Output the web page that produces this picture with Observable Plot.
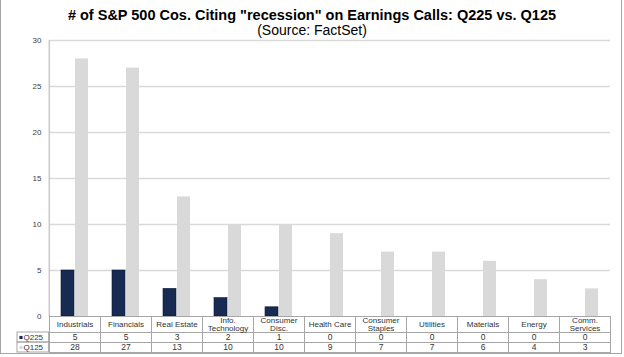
<!DOCTYPE html>
<html><head><meta charset="utf-8">
<script src="https://cdn.jsdelivr.net/npm/d3@7"></script>
<script src="https://cdn.jsdelivr.net/npm/@observablehq/plot@0.6"></script>
<style>
body{margin:0;background:#fff;font-family:"Liberation Sans",Arial,sans-serif;}
#wrap{position:relative;width:624px;height:357px;overflow:hidden;background:#fff;}
#border{position:absolute;left:0px;top:-2px;width:622px;height:356px;border:1.5px solid #a6a6a6;border-top:none;box-sizing:border-box;pointer-events:none;}
#title{height:34px;text-align:center;}
.t1{font-weight:bold;font-size:14.5px;color:#000;padding-top:7px;line-height:16px;}
.t2{font-size:14px;color:#000;line-height:14px;}
</style></head>
<body>
<div id="wrap">
  <div id="title"><div class="t1"># of S&amp;P 500 Cos. Citing "recession" on Earnings Calls: Q225 vs. Q125</div><div class="t2">(Source: FactSet)</div></div>
  <div id="chart"></div>
  <div id="border"></div>
</div>
<script>
const categories = ["Industrials","Financials","Real Estate","Info.\nTechnology","Consumer\nDisc.","Health Care","Consumer\nStaples","Utilities","Materials","Energy","Comm.\nServices"];
const q225 = [5,5,3,2,1,0,0,0,0,0,0];
const q125 = [28,27,13,10,10,9,7,7,6,4,3];
const seriesNames = ["Q225","Q125"];
const yTicks = [0,5,10,15,20,25,30];

const data = categories.flatMap((c,i)=>[{cat:c, series:"Q225", value:q225[i]},{cat:c, series:"Q125", value:q125[i]}]).filter(d=>d.value>0);
const rows = categories.map((c,i)=>({cat:c, q225:q225[i], q125:q125[i]}));
const first = [{cat: categories[0]}];

const W=624,H=323,mt=6,mb=41,ml=47,mr=12;
const plotH = H-mt-mb;
const step = (W-ml-mr)/categories.length;
const font = "Liberation Sans, Arial, sans-serif";
const gridC = "#d9d9d9", tableC = "#a6a6a6", txtC = "#333";
const navy = "#162a52", light = "#d9d9d9";
const tx = {frameAnchor:"bottom", lineAnchor:"middle", fontSize:8.5, fill:txtC};

const chart = Plot.plot({
  width:W, height:H, marginTop:mt, marginBottom:mb, marginLeft:ml, marginRight:mr,
  style:{fontFamily:font, fontSize:"8px", color:"#404040", background:"white", overflow:"visible"},
  fx:{domain:categories, padding:0, axis:null},
  x:{domain:seriesNames, paddingInner:0.07, paddingOuter:0.75, axis:null},
  y:{domain:[0,30], ticks:yTicks, tickSize:0, tickPadding:8, tickFormat:d3.format("d"), label:null},
  color:{domain:seriesNames, range:[navy, light]},
  marks:[
    Plot.ruleY(yTicks.slice(1), {stroke:gridC, strokeWidth:1.5}),
    Plot.ruleX(first, {fx:"cat", x:null, y1:0, y2:30, dx:-step/2, stroke:"#c8c8c8", strokeWidth:1.5}),
    Plot.barY(data, {fx:"cat", x:"series", y:"value", fill:"series", stroke:d=>d.series==="Q225"?"#0d1a36":"none", strokeWidth:0.6}),
    Plot.frame({stroke:tableC, insetTop:plotH, insetBottom:-16}),
    Plot.frame({stroke:tableC, insetTop:plotH+16, insetBottom:-26}),
    Plot.frame({stroke:tableC, insetTop:plotH+26, insetBottom:-36}),
    Plot.rect(first, {fx:"cat", insetLeft:-32, insetRight:step, insetTop:plotH+16, insetBottom:-26, fill:"none", stroke:tableC}),
    Plot.rect(first, {fx:"cat", insetLeft:-32, insetRight:step, insetTop:plotH+26, insetBottom:-36, fill:"none", stroke:tableC}),
    Plot.dot(first, {fx:"cat", frameAnchor:"bottom-left", dx:-28.5, dy:21, symbol:"square", r:1.8, fill:navy}),
    Plot.dot(first, {fx:"cat", frameAnchor:"bottom-left", dx:-28.5, dy:31, symbol:"square", r:1.8, fill:light}),
    Plot.text(first, {fx:"cat", text:()=>"Q225", frameAnchor:"bottom-left", dx:-26, dy:21, textAnchor:"start", lineAnchor:"middle", fontSize:8, fill:txtC}),
    Plot.text(first, {fx:"cat", text:()=>"Q125", frameAnchor:"bottom-left", dx:-26, dy:31, textAnchor:"start", lineAnchor:"middle", fontSize:8, fill:txtC}),
    Plot.text(rows, {...tx, fx:"cat", text:"cat", dy:8, fontSize:8, lineHeight:0.95}),
    Plot.text(rows, {...tx, fx:"cat", text:d=>String(d.q225), dy:21}),
    Plot.text(rows, {...tx, fx:"cat", text:d=>String(d.q125), dy:31})
  ]
});
document.getElementById("chart").appendChild(chart);
</script>
</body></html>
